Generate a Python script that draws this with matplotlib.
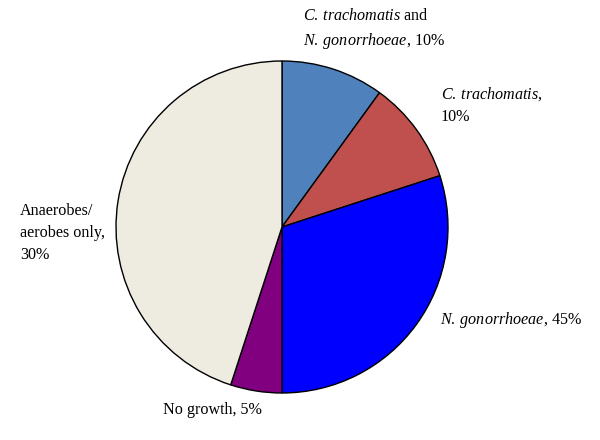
import matplotlib
matplotlib.use("Agg")
import matplotlib.pyplot as plt

categories = ["C. trachomatis and N. gonorrhoeae", "C. trachomatis", "N. gonorrhoeae", "No growth", "Anaerobes/aerobes only"]
values = [10, 10, 30, 5, 45]
label_pcts = ["10%", "10%", "45%", "5%", "30%"]
colors = ["#4F81BD", "#C0504D", "#0000FF", "#800080", "#EEECE1"]

plt.rcParams["font.family"] = "Liberation Serif"
plt.rcParams["mathtext.fontset"] = "custom"
plt.rcParams["mathtext.rm"] = "Liberation Serif"
plt.rcParams["mathtext.it"] = "Liberation Serif:italic"

fig = plt.figure(figsize=(6, 4.4), dpi=100)
ax = fig.add_axes([0, 0, 1, 1])
ax.pie(values, colors=colors, startangle=90, counterclock=False,
       center=(282, 213), radius=166,
       wedgeprops=dict(edgecolor="black", linewidth=1.0))
ax.set_xlim(0, 600)
ax.set_ylim(0, 440)
ax.set_aspect("equal")
ax.axis("off")

fs = 11.6
ls = 1.5
ax.text(303, 440 - 29, r"$\mathit{C.\:trachomatis}$ and" + "\n" + r"$\mathit{N.\:gonorrhoeae}$, " + label_pcts[0],
        fontsize=fs, ha="left", va="center", linespacing=ls)
ax.text(441, 440 - 105, r"$\mathit{C.\:trachomatis}$," + "\n" + label_pcts[1],
        fontsize=fs, ha="left", va="center", linespacing=ls)
ax.text(440, 440 - 320, r"$\mathit{N.\:gonorrhoeae}$, " + label_pcts[2],
        fontsize=fs, ha="left", va="center")
ax.text(163, 440 - 410, "No growth, " + label_pcts[3],
        fontsize=fs, ha="left", va="center")
ax.text(20, 440 - 233, "Anaerobes/\naerobes only,\n" + label_pcts[4],
        fontsize=fs, ha="left", va="center", linespacing=ls)

fig.savefig("out.png", dpi=100)
